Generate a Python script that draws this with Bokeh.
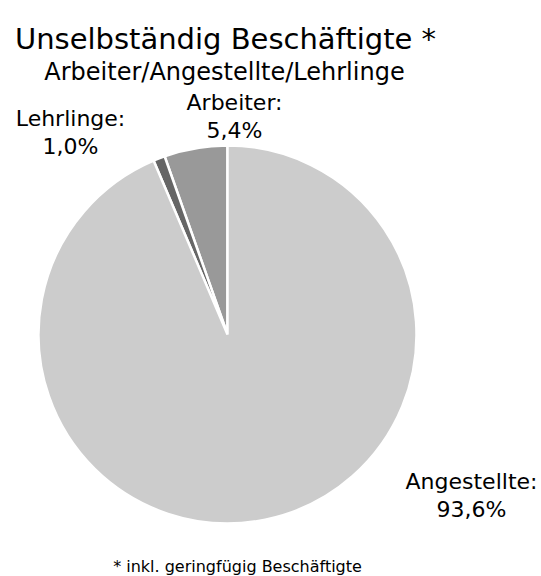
import math
from bokeh.plotting import figure
from bokeh.models import Range1d, ColumnDataSource
from bokeh.core.properties import value
from bokeh.embed import file_html
from bokeh.resources import INLINE

# data
categories = ["Arbeiter", "Lehrlinge", "Angestellte"]
shares = [5.4, 1.0, 93.6]
label_texts = ["Arbeiter:\n5,4%", "Lehrlinge:\n1,0%", "Angestellte:\n93,6%"]
colors = ["#999999", "#666666", "#cccccc"]

W, H = 541, 576
FONT = "DejaVu Sans"

p = figure(width=W, height=H, output_backend="svg", toolbar_location=None,
           x_range=Range1d(0, W), y_range=Range1d(0, H), min_border=0)
p.axis.visible = False
p.grid.visible = False
p.outline_line_color = None
p.background_fill_color = "white"
p.border_fill_color = "white"

def Y(py):
    return H - py

cx, cy, r = 227, Y(334), 189
total = sum(shares)
starts, ends = [], []
a = math.pi / 2
for s in shares:
    starts.append(a)
    a += s / total * 2 * math.pi
    ends.append(a)

src = ColumnDataSource(dict(start=starts, end=ends, color=colors, cat=categories))
p.wedge(x=cx, y=cy, radius=r, start_angle="start", end_angle="end",
        fill_color="color", line_color="white", line_width=2.5, source=src)

# labels (two lines each)
label_pos = {"Arbeiter": (234, 102), "Lehrlinge": (70, 118), "Angestellte": (471, 481)}
lx, ly1, ly2, l1, l2 = [], [], [], [], []
for c, t in zip(categories, label_texts):
    a1, a2 = t.split("\n")
    x, y = label_pos[c]
    lx.append(x); ly1.append(Y(y)); ly2.append(Y(y + 28))
    l1.append(a1); l2.append(a2)
p.text(x=lx + lx, y=ly1 + ly2, text=l1 + l2, text_align="center",
       text_baseline="alphabetic", text_font=value(FONT), text_font_size="22px",
       text_color="#000000")

# titles
p.text(x=[225], y=[Y(38)], text=["Unselbständig Beschäftigte *"], text_align="center",
       text_baseline="alphabetic", text_font=value(FONT), text_font_size="29px",
       text_color="#000000")
p.text(x=[224], y=[Y(71)], text=["Arbeiter/Angestellte/Lehrlinge"], text_align="center",
       text_baseline="alphabetic", text_font=value(FONT), text_font_size="24px",
       text_color="#000000")
p.text(x=[237], y=[Y(566)], text=["* inkl. geringfügig Beschäftigte"], text_align="center",
       text_baseline="alphabetic", text_font=value(FONT), text_font_size="16px",
       text_color="#000000")

open("out.html", "w").write(file_html(p, INLINE))
